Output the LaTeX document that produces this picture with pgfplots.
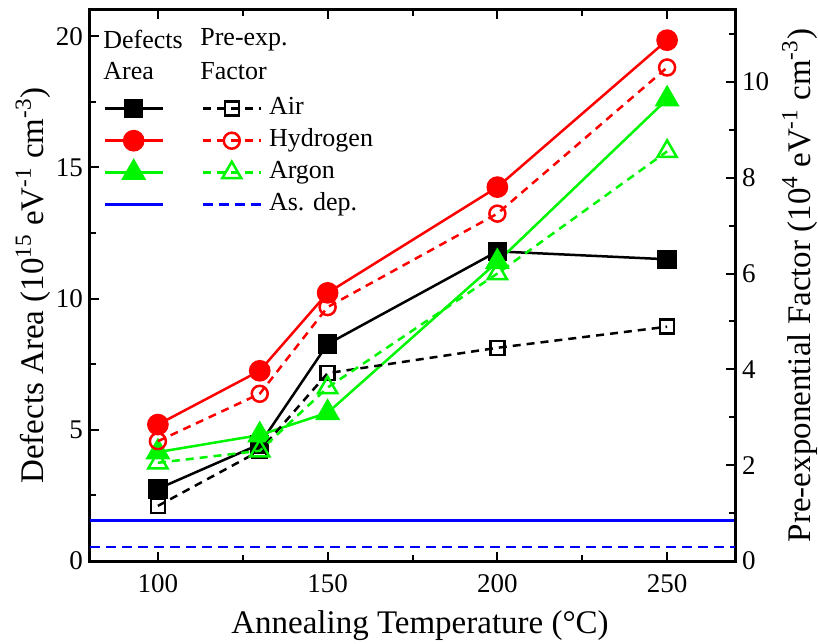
\documentclass[border=0pt]{standalone}
\usepackage{fontspec}
\setmainfont{Liberation Serif}
\usepackage{pgfplots}
\pgfplotsset{compat=1.18}

\definecolor{cred}{RGB}{255,0,0}
\definecolor{cgreen}{RGB}{0,245,0}
\definecolor{cblue}{RGB}{0,0,255}

\pgfplotsset{
  twin/.style={
    scale only axis, width=322.5pt, height=275.5pt,
    xmin=80, xmax=270,
    tick align=inside,
    major tick length=4.5pt, minor tick length=3pt,
    every tick/.style={black, line width=1pt},
    axis line style={line width=1.5pt},
    /pgf/number format/assume math mode=true,
    ticklabel style={font=\fontsize{13.5}{14}\selectfont},
    label style={font=\fontsize{16.5}{18}\selectfont},
  },
  solidline/.style={line width=1.25pt},
  dashline/.style={line width=1.25pt, dash pattern=on 4pt off 3pt},
  legend image code/.code={%
    \draw[mark repeat=2, mark phase=2, #1]
      plot coordinates {(0pt,0pt) (14.5pt,0pt) (29pt,0pt)};},
}

\begin{document}
\begin{tikzpicture}
% Defects area (left axis), solid lines with filled marks
\begin{axis}[twin, name=main,
  ymin=0, ymax=21,
  ytick={0,5,10,15,20}, minor ytick={2.5,7.5,12.5,17.5},
  xtick={100,150,200,250}, minor xtick={125,175,225},
  ytick pos=left, xtick pos=both,
  xticklabel style={yshift=-3pt},
  xlabel={Annealing Temperature (°C)},
  xlabel style={at={(axis description cs:0.5116,-0.1307)}, anchor=base},
  ylabel={Defects Area (10\textsuperscript{15} eV\textsuperscript{-1} cm\textsuperscript{-3})},
  ylabel style={at={(axis description cs:-0.0721,0.5)}, anchor=base, rotate=0},
]
\addplot[solidline, black, mark=square*, mark size=4.2pt, mark options={solid}]
  coordinates {(100,2.75) (130,4.45) (150,8.27) (200,11.8) (250,11.5)};
\addplot[solidline, cred, mark=*, mark size=4.8pt, mark options={solid}]
  coordinates {(100,5.2) (130,7.25) (150,10.22) (200,14.25) (250,19.85)};
\addplot[solidline, cgreen, mark=triangle*, mark size=6pt, mark options={solid}]
  coordinates {(100,4.15) (130,4.8) (150,5.65) (200,11.4) (250,17.6)};
\addplot[solidline, cblue] coordinates {(80,1.55) (270,1.55)};
\end{axis}

% Pre-exponential factor (right axis), dashed lines with open marks
\begin{axis}[twin,
  axis x line=none, axis y line*=right,
  ymin=0, ymax=11.5,
  ytick={0,2,4,6,8,10}, minor ytick={1,3,5,7,9,11},
  ylabel={Pre-exponential Factor (10\textsuperscript{4} eV\textsuperscript{-1} cm\textsuperscript{-3})},
  ylabel style={at={(axis description cs:1.1163,0.5)}, anchor=base},
  legend columns=2, legend cell align=left,
  legend style={draw=none, fill=none, inner sep=0pt,
    at={(rel axis cs:0.0202,0.847)}, anchor=north west,
    font=\fontsize{13}{13}\selectfont,
    nodes={inner ysep=1pt, inner xsep=3.5pt, text height=9pt, text depth=3pt},
    row sep=2.0pt,
    /tikz/column 2/.style={column sep=11.8pt}},
]
\addlegendimage{solidline, black, mark=square*, mark size=4.2pt, mark options={solid}}
\addlegendentry{}
\addplot[dashline, black, mark=square, mark size=3.5pt, mark options={solid, fill=white}]
  coordinates {(100,1.15) (130,2.3) (150,3.92) (200,4.45) (250,4.89)};
\addlegendentry{Air}
\addlegendimage{solidline, cred, mark=*, mark size=4.8pt, mark options={solid}}
\addlegendentry{}
\addplot[dashline, cred, mark=o, mark size=4pt, mark options={solid, fill=white}]
  coordinates {(100,2.5) (130,3.49) (150,5.3) (200,7.25) (250,10.3)};
\addlegendentry{Hydrogen}
\addlegendimage{solidline, cgreen, mark=triangle*, mark size=6pt, mark options={solid}}
\addlegendentry{}
\addplot[dashline, cgreen, mark=triangle, mark size=5.5pt, mark options={solid, fill=white}]
  coordinates {(100,2.05) (130,2.3) (150,3.62) (200,6.0) (250,8.55)};
\addlegendentry{Argon}
\addlegendimage{solidline, cblue}
\addlegendentry{}
\addplot[line width=1.25pt, cblue, dash pattern=on 5pt off 3pt]
  coordinates {(80,0.29) (270,0.29)};
\addlegendentry{As. dep.}

% two-line column headings of the legend
\node[anchor=west, font=\fontsize{13}{13}\selectfont, inner sep=0pt] at (rel axis cs:0.0202,0.946) {Defects};
\node[anchor=west, font=\fontsize{13}{13}\selectfont, inner sep=0pt] at (rel axis cs:0.0202,0.889) {Area};
\node[anchor=west, font=\fontsize{13}{13}\selectfont, inner sep=0pt] at (rel axis cs:0.1705,0.946) {Pre-exp.};
\node[anchor=west, font=\fontsize{13}{13}\selectfont, inner sep=0pt] at (rel axis cs:0.1705,0.889) {Factor};
\end{axis}

\pgfresetboundingbox
\path ([shift={(-45pt,-41pt)}]main.south west) rectangle ([shift={(41.5pt,5pt)}]main.north east);
\end{tikzpicture}
\end{document}
